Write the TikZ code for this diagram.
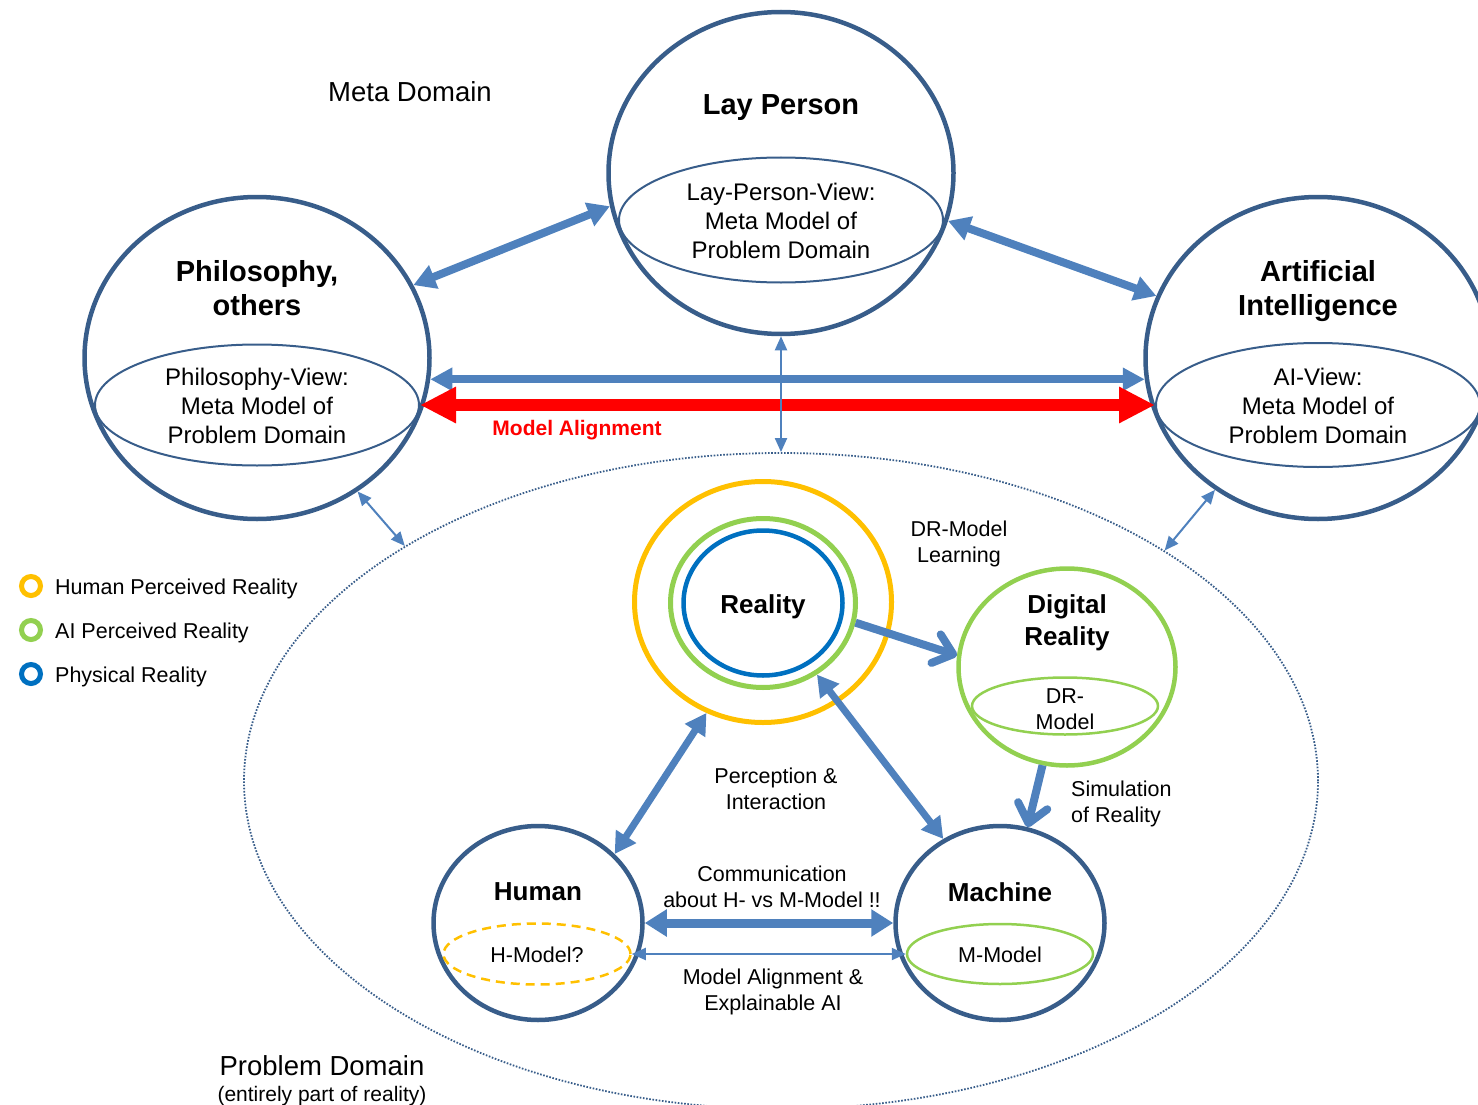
\documentclass[tikz,border=0pt]{standalone}
\usepackage{fontspec}
\setmainfont{Liberation Sans}
\usetikzlibrary{shapes.geometric,arrows.meta}
\definecolor{dblue}{HTML}{385D8A}
\definecolor{ablue}{HTML}{4F81BD}
\definecolor{orng}{HTML}{FFC000}
\definecolor{grn}{HTML}{92D050}
\definecolor{pblue}{HTML}{0070C0}
\definecolor{rred}{HTML}{FF0000}
\begin{document}
\begin{tikzpicture}[x=1pt,y=-1pt,
  bigring/.style={ellipse,draw=dblue,line width=4.5pt,inner sep=0pt,minimum width=345pt,minimum height=322pt},
  viewell/.style={ellipse,draw=dblue,line width=2pt,inner sep=0pt},
  midring/.style={ellipse,draw=dblue,line width=4.5pt,inner sep=0pt,minimum width=209pt,minimum height=194pt},
  tbig/.style={font=\fontsize{29}{34}\selectfont\bfseries,align=center,inner sep=0pt},
  tmid/.style={font=\fontsize{24}{29}\selectfont,align=center,inner sep=0pt},
  tbold/.style={font=\fontsize{26}{32}\selectfont\bfseries,align=center,inner sep=0pt},
  tlab/.style={font=\fontsize{21.5}{25.5}\selectfont,align=center,inner sep=0pt},
  tdom/.style={font=\fontsize{27.5}{32}\selectfont,inner sep=0pt},
  legring/.style={circle,line width=5pt,minimum size=19pt,inner sep=0pt},
  dblarrow/.style={color=ablue,line width=8pt,{Triangle[length=22pt,width=24pt]}-{Triangle[length=22pt,width=24pt]}},
  dblarrowb/.style={color=ablue,line width=7pt,{Triangle[length=21pt,width=23pt]}-{Triangle[length=21pt,width=23pt]}},
  horarrow/.style={color=ablue,line width=8pt,{Triangle[length=22pt,width=22pt]}-{Triangle[length=22pt,width=22pt]}},
  redarrow/.style={color=rred,line width=12pt,{Triangle[length=36pt,width=34pt]}-{Triangle[length=36pt,width=34pt]}},
  commarrow/.style={color=ablue,line width=9pt,{Triangle[length=22pt,width=26pt]}-{Triangle[length=22pt,width=26pt]}},
  thinarrow/.style={color=ablue,line width=2pt,{Triangle[length=14pt,width=12pt]}-{Triangle[length=14pt,width=12pt]}},
  barbarrow/.style={color=ablue,line width=8pt,-{Straight Barb[length=18pt,width=30pt,round]}}
]
\useasboundingbox (0,0) rectangle (1478,1105);
\clip (0,0) rectangle (1478,1105);

% problem domain
\node[ellipse,draw=dblue,line width=1.8pt,dash pattern=on 1.6pt off 1.6pt,minimum width=1074pt,minimum height=656pt,inner sep=0pt] (pd) at (781,781) {};

% meta domain circles
\node[bigring] (lay) at (781,173) {};
\node[viewell,minimum width=324pt,minimum height=125pt] (layv) at (781,220) {};
\node[bigring] (phil) at (257,358) {};
\node[viewell,minimum width=324pt,minimum height=121pt] (philv) at (257,405) {};
\node[bigring] (ai) at (1318,358) {};
\node[viewell,minimum width=324pt,minimum height=124pt] (aiv) at (1318,405) {};

\node[tdom] (metat) at (410,92) {Meta Domain};
\node[tbig] (layt) at (781,108) {Lay Person};
\node[tmid] (layvt) at (781,221) {Lay-Person-View:\\Meta Model of\\Problem Domain};
\node[tbig] (philt) at (257,288) {Philosophy,\\others};
\node[tmid] (philvt) at (257,406) {Philosophy-View:\\Meta Model of\\Problem Domain};
\node[tbig] (ait) at (1318,291) {Artificial\\Intelligence};
\node[tmid] (aivt) at (1318,406) {AI-View:\\Meta Model of\\Problem Domain};

% reality
\node[ellipse,draw=orng,line width=5pt,minimum width=257pt,minimum height=241pt,inner sep=0pt] (reala) at (763,602) {};
\node[ellipse,draw=grn,line width=5pt,minimum width=185pt,minimum height=169pt,inner sep=0pt] (realg) at (763,603) {};
\node[ellipse,draw=pblue,line width=4.5pt,minimum width=159pt,minimum height=145pt,inner sep=0pt] (realb) at (763,603) {};
\node[tbold] (realt) at (763,607) {Reality};

% digital reality
\node[ellipse,draw=grn,line width=4.5pt,minimum width=217pt,minimum height=197pt,inner sep=0pt] (dig) at (1067,667) {};
\node[ellipse,draw=grn,line width=2.5pt,minimum width=186pt,minimum height=57pt,inner sep=0pt] (digm) at (1065,706) {};
\node[tbold] (digt) at (1067,623) {Digital\\Reality};
\node[tlab] (digmt) at (1065,709) {DR-\\Model};
\node[tlab] (learnt) at (959,544) {DR-Model\\Learning};

% human / machine
\node[midring] (hum) at (538,923) {};
\node[ellipse,draw=orng,line width=2.5pt,dash pattern=on 9pt off 6pt,minimum width=187pt,minimum height=61pt,inner sep=0pt] (humm) at (537,954) {};
\node[tbold] (humt) at (538,892) {Human};
\node[tlab] (hummt) at (537,955) {H-Model?};
\node[midring] (mach) at (1000,923) {};
\node[ellipse,draw=grn,line width=2.5pt,minimum width=186pt,minimum height=60pt,inner sep=0pt] (machm) at (1000,954) {};
\node[tbold] (macht) at (1000,892) {Machine};
\node[tlab] (machmt) at (1000,955) {M-Model};

% labels
\node[tlab] (perct) at (776,789) {Perception \&\\Interaction};
\node[tlab,align=left,anchor=west] (simt) at (1071,804) {Simulation\\of Reality};
\node[tlab] (commt) at (772,887) {Communication\\about H- vs M-Model !!};
\node[tlab] (alignt) at (773,992) {Model Alignment \&\\Explainable AI};
\node[font=\fontsize{21}{25}\selectfont\bfseries,text=rred,inner sep=0pt] (redt) at (577,430) {Model Alignment};
\node[tdom] (pdt) at (322,1066) {Problem Domain};
\node[font=\fontsize{21}{25}\selectfont,inner sep=0pt] (pdt2) at (322,1096) {(entirely part of reality)};

% legend
\node[legring,draw=orng] (leg1) at (31,586) {};
\node[legring,draw=grn] (leg2) at (31,630) {};
\node[legring,draw=pblue] (leg3) at (31,674) {};
\node[tlab,anchor=west] (leg1t) at (55,589) {Human Perceived Reality};
\node[tlab,anchor=west] (leg2t) at (55,633) {AI Perceived Reality};
\node[tlab,anchor=west] (leg3t) at (55,677) {Physical Reality};

% connectors
\draw[dblarrow] (lay.191.9) -- (phil.25.7);
\draw[dblarrow] (lay.344.4) -- (ai.159.2);
\draw[horarrow] (phil.-7.2) -- (ai.187.2);
\draw[redarrow] (philv.east) -- (aiv.west);
\draw[thinarrow] (lay.south) -- (pd.north);
\draw[thinarrow] (phil.-53.2) -- (pd.148.6);
\draw[thinarrow] (ai.232.9) -- (pd.31.4);
\draw[barbarrow] (realg.-12.6) -- (dig.174);
\draw[dblarrowb] (hum.42.7) -- (reala.243.2);
\draw[dblarrowb] (mach.124.1) -- (realg.-53.7);
\draw[barbarrow] (dig.256.9) -- (mach.74.5);
\draw[commarrow] (hum.east) -- (mach.west);
\draw[thinarrow] (humm.east) -- (machm.west);
\end{tikzpicture}
\end{document}
